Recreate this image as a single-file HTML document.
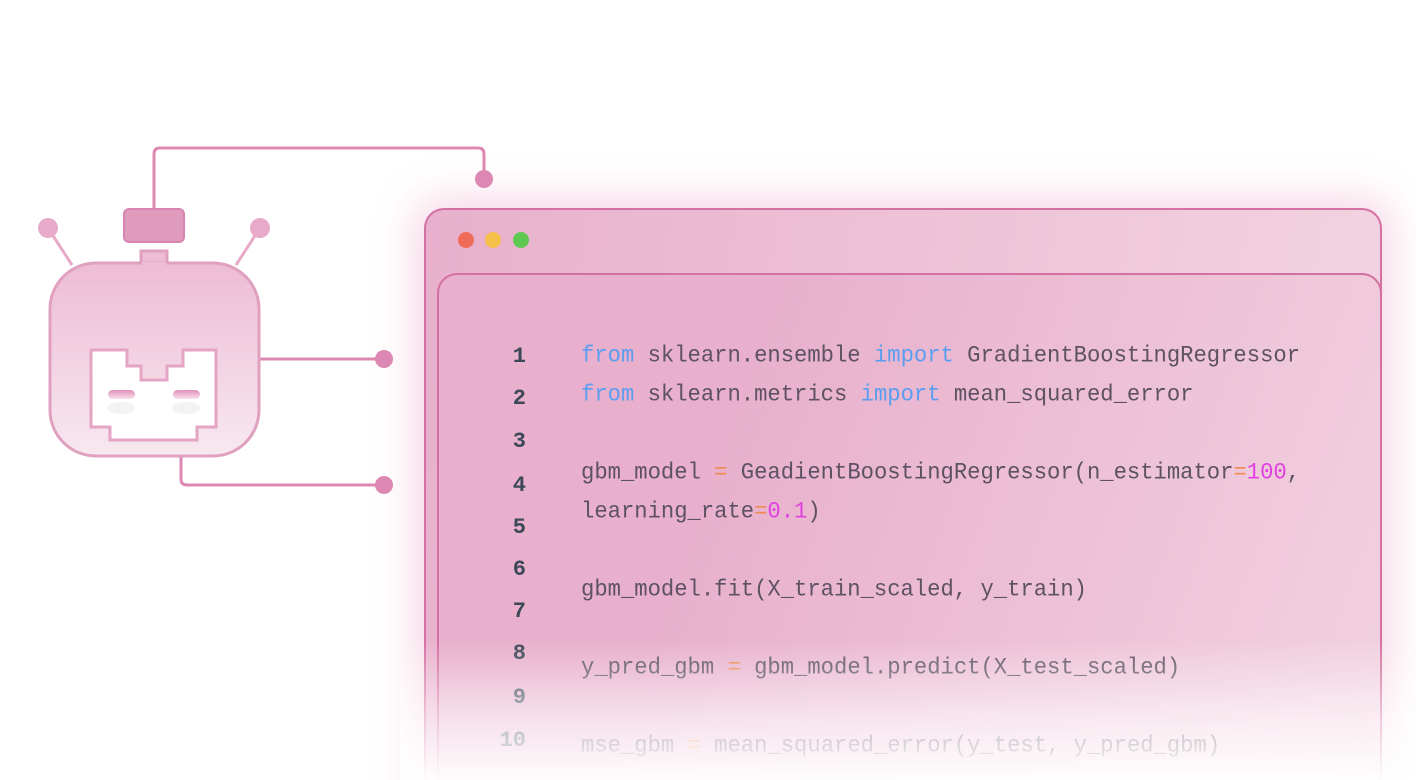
<!DOCTYPE html>
<html style="overflow:hidden;width:1416px;height:780px"><head><meta charset="utf-8"><style>
body{margin:0;width:1416px;height:780px;overflow:hidden;background:#fff;position:relative;font-family:"Liberation Sans",sans-serif}
.win{position:absolute;left:424px;top:208px;width:954px;height:600px;border:2px solid #d470a2;border-bottom:none;border-radius:20px 20px 0 0;background:linear-gradient(100deg,#e8b0cc,#f3d6e2);box-shadow:0 0 40px 10px rgba(230,140,180,.35)}
.inner{position:absolute;left:437px;top:273px;width:941px;height:507px;border:2px solid #d470a2;border-bottom:none;border-radius:20px 20px 0 0;background:linear-gradient(110deg,#e8b0cc 30%,#f2d2e0)}
.dot{position:absolute;width:16px;height:16px;border-radius:50%;top:232px}
.code{position:absolute;font-family:"Liberation Mono",monospace;font-size:22.2px;color:#5e5262;white-space:pre;transform:scaleY(1.05)}
.n{position:absolute;font-family:"Liberation Mono",monospace;font-size:22px;color:#3c4858;width:60px;text-align:right;left:466px;font-weight:bold}
.k{color:#5b9df0}.o{color:#f08a50}.m{color:#e040e0}
.fade{position:absolute;left:400px;top:640px;width:1016px;height:140px;background:linear-gradient(rgba(255,255,255,0),rgba(255,255,255,.6) 55%,rgba(255,255,255,.97))}
</style></head><body>
<div class="win"></div>
<div class="dot" style="left:458px;background:#f06a5a"></div>
<div class="dot" style="left:485px;background:#f5c04a"></div>
<div class="dot" style="left:513px;background:#5ec850"></div>
<div class="inner"></div>
<div class="n" style="top:344px">1</div>
<div class="n" style="top:386px">2</div>
<div class="n" style="top:429px">3</div>
<div class="n" style="top:473px">4</div>
<div class="n" style="top:515px">5</div>
<div class="n" style="top:557px">6</div>
<div class="n" style="top:599px">7</div>
<div class="n" style="top:641px">8</div>
<div class="n" style="top:685px">9</div>
<div class="n" style="top:728px">10</div>
<div class="code" style="left:581px;top:343px"><span class="k">from</span> sklearn.ensemble <span class="k">import</span> GradientBoostingRegressor</div>
<div class="code" style="left:581px;top:382px"><span class="k">from</span> sklearn.metrics <span class="k">import</span> mean_squared_error</div>
<div class="code" style="left:581px;top:460px">gbm_model <span class="o">=</span> GeadientBoostingRegressor(n_estimator<span class="o">=</span><span class="m">100</span>,</div>
<div class="code" style="left:581px;top:499px">learning_rate<span class="o">=</span><span class="m">0.1</span>)</div>
<div class="code" style="left:581px;top:577px">gbm_model.fit(X_train_scaled, y_train)</div>
<div class="code" style="left:581px;top:655px">y_pred_gbm <span class="o">=</span> gbm_model.predict(X_test_scaled)</div>
<div class="code" style="left:581px;top:733px">mse_gbm <span class="o">=</span> mean_squared_error(y_test, y_pred_gbm)</div>
<div class="fade"></div>
<svg width="1416" height="780" style="position:absolute;left:0;top:0">
<defs>
<linearGradient id="bg" x1="0" y1="0" x2="0" y2="1"><stop offset="0" stop-color="#edbcd4"/><stop offset="1" stop-color="#f8e8f0"/></linearGradient>
<linearGradient id="eye" x1="0" y1="0" x2="0" y2="1"><stop offset="0" stop-color="#e090b8"/><stop offset="1" stop-color="#f8e0ec"/></linearGradient>
</defs>
<g fill="none" stroke="#dc88b2" stroke-width="3">
<path d="M154 208 V154 Q154 148 160 148 H478 Q484 148 484 154 V179"/>
<path d="M259 359 H384"/>
<path d="M181 456 V479 Q181 485 187 485 H384"/>
</g>
<circle cx="484" cy="179" r="9" fill="#dc88b2"/>
<circle cx="384" cy="359" r="9" fill="#dc88b2"/>
<circle cx="384" cy="485" r="9" fill="#dc88b2"/>
<g stroke="#e8aac8" stroke-width="3"><line x1="72" y1="265" x2="48" y2="228"/><line x1="236" y1="265" x2="260" y2="228"/></g>
<circle cx="48" cy="228" r="10" fill="#e8aac8"/><circle cx="260" cy="228" r="10" fill="#e8aac8"/>
<rect x="124" y="209" width="60" height="33" rx="5" fill="#e09abc" stroke="#d884b0" stroke-width="2"/>
<rect x="141" y="251" width="26" height="16" fill="#eebcd4" stroke="#e0a0c0" stroke-width="3"/>
<rect x="50" y="263" width="209" height="193" rx="46" fill="url(#bg)" stroke="#e0a0c0" stroke-width="3"/>
<rect x="142" y="262" width="24" height="4" fill="#eebcd4"/>
<path d="M91 350 H127 V366 H141 V380 H167 V366 H183 V350 H216 V427 H197 V440 H110 V427 H91 Z" fill="#fff" stroke="#e4a4c4" stroke-width="3"/>
<ellipse cx="121" cy="408" rx="14" ry="6" fill="#f4f2f4"/><ellipse cx="186" cy="408" rx="14" ry="6" fill="#f4f2f4"/>
<rect x="108" y="390" width="27" height="9" rx="4.5" fill="url(#eye)"/>
<rect x="173" y="390" width="27" height="9" rx="4.5" fill="url(#eye)"/>
</svg>
</body></html>
